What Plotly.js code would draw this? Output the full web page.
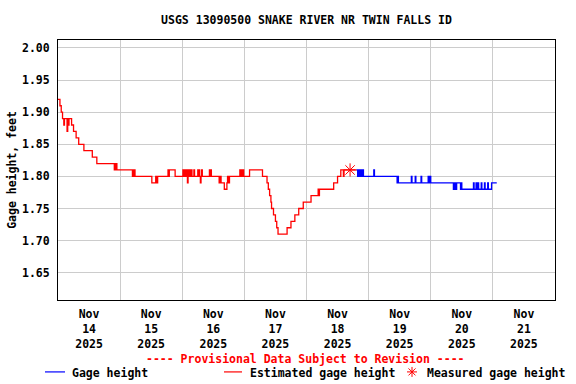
<!DOCTYPE html>
<html>
<head>
<meta charset="utf-8">
<script src="https://cdn.plot.ly/plotly-3.0.1.min.js"></script>
<style>html,body{margin:0;padding:0;background:#fff;}#chart{width:576px;height:384px;}</style>
</head>
<body>
<div id="chart"></div>
<script>
// Estimated gage height (red)
const estTimes = [
 '2025-11-14 00:00','2025-11-14 00:45','2025-11-14 01:15','2025-11-14 01:45','2025-11-14 02:15','2025-11-14 02:30',
 '2025-11-14 03:30','2025-11-14 03:45','2025-11-14 04:00','2025-11-14 04:15','2025-11-14 05:15','2025-11-14 06:00',
 '2025-11-14 07:00','2025-11-14 08:00','2025-11-14 10:00','2025-11-14 13:15','2025-11-14 15:00','2025-11-14 21:45',
 '2025-11-14 22:00','2025-11-14 22:15','2025-11-14 22:30','2025-11-14 22:45',
 '2025-11-15 04:45','2025-11-15 05:00','2025-11-15 05:15','2025-11-15 05:30','2025-11-15 05:45','2025-11-15 12:15',
 '2025-11-15 13:45','2025-11-15 14:00','2025-11-15 14:30','2025-11-15 18:30','2025-11-15 18:45','2025-11-15 19:00',
 '2025-11-15 21:15',
 '2025-11-16 00:15','2025-11-16 00:30','2025-11-16 00:45','2025-11-16 01:00','2025-11-16 01:15','2025-11-16 01:30',
 '2025-11-16 01:45','2025-11-16 02:00','2025-11-16 02:15','2025-11-16 02:30','2025-11-16 02:45','2025-11-16 03:00',
 '2025-11-16 03:15','2025-11-16 03:30','2025-11-16 03:45','2025-11-16 04:30','2025-11-16 04:45','2025-11-16 06:00',
 '2025-11-16 06:15','2025-11-16 06:30','2025-11-16 06:45','2025-11-16 07:00','2025-11-16 07:15','2025-11-16 07:30',
 '2025-11-16 07:45','2025-11-16 10:30','2025-11-16 10:45','2025-11-16 11:00','2025-11-16 11:15','2025-11-16 14:15',
 '2025-11-16 14:45','2025-11-16 15:00','2025-11-16 16:15','2025-11-16 17:15','2025-11-16 17:30','2025-11-16 17:45',
 '2025-11-16 18:15','2025-11-16 22:15','2025-11-16 22:30','2025-11-16 22:45','2025-11-16 23:00','2025-11-16 23:15',
 '2025-11-16 23:45',
 '2025-11-17 02:00','2025-11-17 07:00','2025-11-17 08:45','2025-11-17 09:15','2025-11-17 09:45','2025-11-17 10:15',
 '2025-11-17 10:30','2025-11-17 11:15','2025-11-17 12:00','2025-11-17 12:30','2025-11-17 13:00','2025-11-17 16:30',
 '2025-11-17 18:00','2025-11-17 19:30','2025-11-17 21:00','2025-11-17 22:45',
 '2025-11-18 01:45','2025-11-18 04:30','2025-11-18 04:45','2025-11-18 05:00','2025-11-18 10:30','2025-11-18 12:00',
 '2025-11-18 13:15','2025-11-18 14:15','2025-11-18 14:30','2025-11-18 19:00'
];
const estValues = [
 1.92,1.91,1.90,1.89,1.88,1.89,
 1.87,1.89,1.88,1.89,1.88,1.87,
 1.86,1.85,1.84,1.83,1.82,1.81,
 1.82,1.81,1.82,1.81,
 1.80,1.81,1.80,1.81,1.80,1.79,
 1.80,1.79,1.80,1.81,1.80,1.81,
 1.80,
 1.81,1.80,1.81,1.80,1.81,1.80,
 1.81,1.79,1.80,1.81,1.80,1.81,
 1.80,1.81,1.80,1.81,1.80,1.81,
 1.80,1.81,1.80,1.79,1.80,1.81,
 1.80,1.81,1.80,1.81,1.80,1.79,
 1.80,1.79,1.78,1.79,1.80,1.79,
 1.80,1.81,1.80,1.81,1.80,1.81,
 1.80,
 1.81,1.80,1.79,1.78,1.77,1.76,
 1.75,1.74,1.73,1.72,1.71,1.72,
 1.73,1.74,1.75,1.76,
 1.77,1.78,1.77,1.78,1.79,1.80,
 1.81,1.80,1.81,1.81
];
// Gage height (blue)
const gageTimes = [
 '2025-11-18 19:15','2025-11-18 19:45','2025-11-18 20:00','2025-11-18 20:30','2025-11-18 20:45','2025-11-18 21:15',
 '2025-11-18 21:30','2025-11-18 22:00',
 '2025-11-19 02:00','2025-11-19 02:15','2025-11-19 11:00','2025-11-19 11:15','2025-11-19 11:30','2025-11-19 16:30',
 '2025-11-19 16:45','2025-11-19 18:00','2025-11-19 18:15','2025-11-19 20:15','2025-11-19 20:30','2025-11-19 23:00',
 '2025-11-19 23:15','2025-11-19 23:45',
 '2025-11-20 00:00','2025-11-20 08:45','2025-11-20 09:00','2025-11-20 09:15','2025-11-20 09:30','2025-11-20 09:45',
 '2025-11-20 10:00','2025-11-20 11:30','2025-11-20 11:45','2025-11-20 12:00','2025-11-20 16:30','2025-11-20 16:45',
 '2025-11-20 17:30','2025-11-20 17:45','2025-11-20 18:15','2025-11-20 18:30','2025-11-20 19:30','2025-11-20 19:45',
 '2025-11-20 20:45','2025-11-20 21:00','2025-11-20 22:00','2025-11-20 22:15','2025-11-20 23:30',
 '2025-11-21 01:30'
];
const gageValues = [
 1.81,1.80,1.81,1.80,1.81,1.80,
 1.81,1.80,
 1.81,1.80,1.79,1.80,1.79,1.80,
 1.79,1.80,1.79,1.80,1.79,1.80,
 1.79,1.80,
 1.79,1.78,1.79,1.78,1.79,1.78,
 1.79,1.78,1.79,1.78,1.79,1.78,
 1.79,1.78,1.79,1.78,1.79,1.78,
 1.79,1.78,1.79,1.78,1.79,
 1.79
];
// Measured gage height
const measTimes = ['2025-11-18 16:50'];
const measValues = [1.81];

// Axis ticks
const xTickVals = ['2025-11-14 12:00','2025-11-15 12:00','2025-11-16 12:00','2025-11-17 12:00',
                   '2025-11-18 12:00','2025-11-19 12:00','2025-11-20 12:00','2025-11-21 12:00'];
const xTickText = ['Nov<br>14<br>2025','Nov<br>15<br>2025','Nov<br>16<br>2025','Nov<br>17<br>2025',
                   'Nov<br>18<br>2025','Nov<br>19<br>2025','Nov<br>20<br>2025','Nov<br>21<br>2025'];
const yTickVals = [1.65,1.70,1.75,1.80,1.85,1.90,1.95,2.00];
const xRange = ['2025-11-14 00:00','2025-11-22 00:00'];
const yRange = [1.6075, 2.0124];

const FONT = 'DejaVu Sans Mono, monospace';
const baseFont = {family: FONT, size: 11.5, color: '#000', weight: 'bold'};

const traces = [
 {x: estTimes, y: estValues, type: 'scatter', mode: 'lines', line: {color: '#ff0000', width: 1.3, shape: 'hv'}, name: 'Estimated gage height', hoverinfo: 'skip'},
 {x: gageTimes, y: gageValues, type: 'scatter', mode: 'lines', line: {color: '#0000ff', width: 1.3, shape: 'hv'}, name: 'Gage height', hoverinfo: 'skip'},
 {x: measTimes, y: measValues, type: 'scatter', mode: 'markers', marker: {symbol: 'asterisk-open', size: 11, color: '#ff0000', line: {color: '#ff0000', width: 1}}, name: 'Measured gage height', hoverinfo: 'skip'}
];

const layout = {
 width: 576, height: 384,
 margin: {l: 58, r: 21, t: 40, b: 84},
 paper_bgcolor: '#fff', plot_bgcolor: '#fff',
 showlegend: false,
 font: baseFont,
 title: {text: 'USGS 13090500 SNAKE RIVER NR TWIN FALLS ID', font: baseFont, x: 0.5, xanchor: 'center', xref: 'paper', y: 1 - 20/384, yanchor: 'middle', yref: 'container'},
 xaxis: {
  type: 'date', range: xRange, tickmode: 'array', tickvals: xTickVals, ticktext: xTickText,
  showgrid: false, ticks: '', tickfont: baseFont, ticklabelstandoff: 3, showline: true, mirror: true, linecolor: '#000', linewidth: 1,
  zeroline: false, fixedrange: true,
  minor: {tickmode: 'linear', tick0: '2025-11-14 00:00', dtick: 86400000, showgrid: true, gridcolor: '#cccccc', gridwidth: 1, ticks: ''}
 },
 yaxis: {
  range: yRange, tickmode: 'array', tickvals: yTickVals, tickformat: '.2f', ticks: '', ticklabelstandoff: 5,
  showgrid: true, gridcolor: '#cccccc', gridwidth: 1, tickfont: baseFont,
  showline: true, mirror: true, linecolor: '#000', linewidth: 1, zeroline: false, fixedrange: true,
  title: {text: 'Gage height, feet', font: baseFont, standoff: 2}
 },
 annotations: [
  {xref: 'paper', yref: 'paper', x: (305.5-58)/497, y: -(359-300)/260.3, xanchor: 'center', yanchor: 'middle', showarrow: false,
   text: '---- Provisional Data Subject to Revision ----', font: Object.assign({}, baseFont, {color: '#ff0000'})},
  {xref: 'paper', yref: 'paper', x: (70-58)/497, y: -(373-300)/260.3, xanchor: 'left', yanchor: 'middle', showarrow: false,
   text: 'Gage height', font: baseFont},
  {xref: 'paper', yref: 'paper', x: (248-58)/497, y: -(373-300)/260.3, xanchor: 'left', yanchor: 'middle', showarrow: false,
   text: 'Estimated gage height', font: baseFont},
  {xref: 'paper', yref: 'paper', x: (425-58)/497, y: -(373-300)/260.3, xanchor: 'left', yanchor: 'middle', showarrow: false,
   text: 'Measured gage height', font: baseFont}
 ],
 shapes: [
  {type: 'line', xref: 'paper', yref: 'paper', x0: (45-58)/497, x1: (65-58)/497, y0: -(372-300)/260.3, y1: -(372-300)/260.3, line: {color: '#0000ff', width: 1.2}},
  {type: 'line', xref: 'paper', yref: 'paper', x0: (224-58)/497, x1: (242-58)/497, y0: -(372-300)/260.3, y1: -(372-300)/260.3, line: {color: '#ff0000', width: 1.2}},
  {type: 'line', xref: 'paper', yref: 'paper', x0: (407-58)/497, x1: (417-58)/497, y0: -(372-300)/260.3, y1: -(372-300)/260.3, line: {color: '#ff0000', width: 1}},
  {type: 'line', xref: 'paper', yref: 'paper', x0: (412-58)/497, x1: (412-58)/497, y0: -(367-300)/260.3, y1: -(377-300)/260.3, line: {color: '#ff0000', width: 1}},
  {type: 'line', xref: 'paper', yref: 'paper', x0: (408.5-58)/497, x1: (415.5-58)/497, y0: -(368.5-300)/260.3, y1: -(375.5-300)/260.3, line: {color: '#ff0000', width: 1}},
  {type: 'line', xref: 'paper', yref: 'paper', x0: (408.5-58)/497, x1: (415.5-58)/497, y0: -(375.5-300)/260.3, y1: -(368.5-300)/260.3, line: {color: '#ff0000', width: 1}}
 ]
};

Plotly.newPlot('chart', traces, layout, {staticPlot: true, displayModeBar: false});
</script>
</body>
</html>
